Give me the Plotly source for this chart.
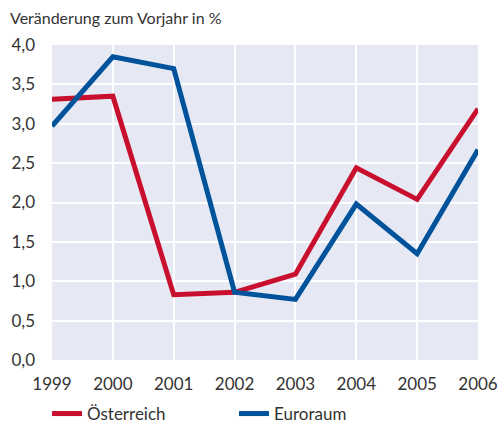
import plotly.graph_objects as go

years = [1999, 2000, 2001, 2002, 2003, 2004, 2005, 2006]
oesterreich = [3.31, 3.35, 0.83, 0.86, 1.09, 2.44, 2.04, 3.19]
euroraum = [2.97, 3.85, 3.70, 0.86, 0.77, 1.98, 1.35, 2.67]
y_ticks = [0.0, 0.5, 1.0, 1.5, 2.0, 2.5, 3.0, 3.5, 4.0]

RED = "#C8102E"
BLUE = "#00529B"
FONT = "Lato, 'Open Sans', sans-serif"
TXT = "#333333"

fig = go.Figure()
fig.add_trace(go.Scatter(x=years, y=oesterreich, mode="lines", name="Österreich",
                         line=dict(color=RED, width=5)))
fig.add_trace(go.Scatter(x=years, y=euroraum, mode="lines", name="Euroraum",
                         line=dict(color=BLUE, width=5)))

fig.update_layout(
    template="none",
    width=501, height=425,
    margin=dict(l=52, r=23, t=45, b=65),
    paper_bgcolor="white",
    plot_bgcolor="#E6E9F3",
    separators=",.",
    font=dict(family=FONT, size=16, color=TXT),
    showlegend=True,
    legend=dict(orientation="h", xref="container", yref="container",
                x=47/501, y=1 - 396/425, xanchor="left", yanchor="top",
                font=dict(size=17, color=TXT), itemwidth=30, entrywidthmode="pixels",
                entrywidth=142, bgcolor="rgba(0,0,0,0)", tracegroupgap=0),
    xaxis=dict(range=[1999, 2006], tickvals=years, ticktext=[str(y) for y in years],
               showgrid=True, gridcolor="white", gridwidth=2, zeroline=False,
               showline=False, ticks="", ticklabelstandoff=12, automargin=False,
               tickfont=dict(size=17, color=TXT)),
    yaxis=dict(range=[0, 4], tickvals=y_ticks, tickformat=".1f",
               showgrid=True, gridcolor="white", gridwidth=2, zeroline=False,
               showline=False, ticks="", ticklabelstandoff=16, automargin=False,
               tickfont=dict(size=17, color=TXT)),
    annotations=[dict(text="Veränderung zum Vorjahr in %", xref="paper", yref="paper",
                      x=-44/426, y=1, xanchor="left", yanchor="middle", yshift=28,
                      showarrow=False, font=dict(size=16, color=TXT))],
)

fig.write_html("out.html", config={"displayModeBar": False},
               post_script="document.body.style.margin='0';document.body.style.overflow='hidden';")
